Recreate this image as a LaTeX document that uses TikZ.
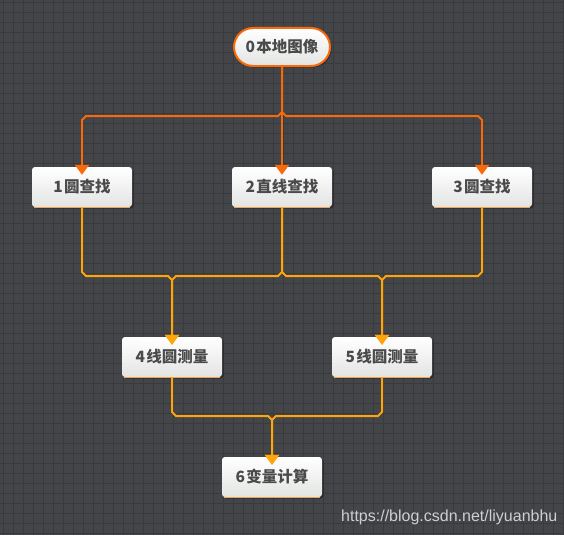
\documentclass[tikz,border=0pt]{standalone}
\usepackage{fontspec}
\newfontfamily\cjk{Noto Sans CJK SC}
\newfontfamily\wmfont{Liberation Sans}
\usetikzlibrary{arrows.meta,shadows}
\definecolor{bg}{HTML}{444548}
\definecolor{gridc}{HTML}{393A3D}
\definecolor{orgA}{HTML}{F76A0C}
\definecolor{orgB}{HTML}{FFA40A}
\definecolor{btmc}{HTML}{F5A050}
\definecolor{txt}{HTML}{4A4A4A}
\definecolor{boxbot}{HTML}{E2E4E2}
\definecolor{wm}{HTML}{CFCFCF}
\newcommand{\dg}[1]{#1\kern1.5pt}
\begin{document}
\begin{tikzpicture}[x=1pt,y=-1pt,
  box/.style={rectangle, rounded corners=3pt, minimum width=100pt, minimum height=40pt,
    inner sep=0pt, top color=white, bottom color=boxbot, text=txt,
    font=\cjk\bfseries\fontsize{15.5}{15.5}\selectfont,
    drop shadow={shadow xshift=1.5pt, shadow yshift=-1.5pt, opacity=0.35, fill=black}},
  pill/.style={box, rounded corners=19pt, minimum width=96pt, minimum height=38pt,
    draw=orgA, line width=2pt},
  btm/.style={draw=btmc, line width=1pt},
  eA/.style={draw=orgA, line width=2pt, -{Triangle[width=14pt,length=10pt]}},
  eB/.style={draw=orgB, line width=2pt, -{Triangle[width=14pt,length=10pt]}},
  gridline/.style={draw=gridc, line width=1pt}
]
\fill[bg] (0,0) rectangle (564,535);
\useasboundingbox (0,0) rectangle (564,535);
\foreach \x in {3,13,...,563} \draw[gridline] (\x,0) -- (\x,535);
\foreach \y in {3,13,...,533} \draw[gridline] (0,\y) -- (564,\y);

\node[pill] (n0) at (282,47) {\dg{0}本地图像};
\node[box] (n1) at (82,187) {\dg{1}圆查找};
\node[box] (n2) at (282,187) {\dg{2}直线查找};
\node[box] (n3) at (482,187) {\dg{3}圆查找};
\node[box] (n4) at (172,357) {\dg{4}线圆测量};
\node[box] (n5) at (382,357) {\dg{5}线圆测量};
\node[box] (n6) at (272,477) {\dg{6}变量计算};

\foreach \n in {n1,n2,n3,n4,n5,n6}
  \draw[btm] ([xshift=2pt]\n.south west) -- ([xshift=-2pt]\n.south east);

% level 0 -> 1
\coordinate (a0) at (282,112);
\draw[eA] (n0.south) -- (a0) -- (278,116) -- (86,116) -- (82,120) -- ([yshift=-8pt]n1.north);
\draw[eA] (n0.south) -- ([yshift=-8pt]n2.north);
\draw[eA] (n0.south) -- (a0) -- (286,116) -- (478,116) -- (482,120) -- ([yshift=-8pt]n3.north);

% level 1 -> 2
\coordinate (b4) at (172,280);
\coordinate (b5) at (382,280);
\draw[eB] (n1.south) -- (82,272) -- (86,276) -- (168,276) -- (b4) -- ([yshift=-8pt]n4.north);
\draw[eB] (n2.south) -- (282,272) -- (278,276) -- (176,276) -- (b4) -- ([yshift=-8pt]n4.north);
\draw[eB] (n2.south) -- (282,272) -- (286,276) -- (378,276) -- (b5) -- ([yshift=-8pt]n5.north);
\draw[eB] (n3.south) -- (482,272) -- (478,276) -- (386,276) -- (b5) -- ([yshift=-8pt]n5.north);

% level 2 -> 3
\coordinate (c6) at (272,420);
\draw[eB] (n4.south) -- (172,412) -- (176,416) -- (268,416) -- (c6) -- ([yshift=-8pt]n6.north);
\draw[eB] (n5.south) -- (382,412) -- (378,416) -- (276,416) -- (c6) -- ([yshift=-8pt]n6.north);

\node[anchor=base west, inner sep=0pt, text=wm, font=\wmfont\fontsize{16}{16}\selectfont]
  (wmk) at (341,521.5) {https://blog.csdn.net/liyuanbhu};
\end{tikzpicture}
\end{document}
